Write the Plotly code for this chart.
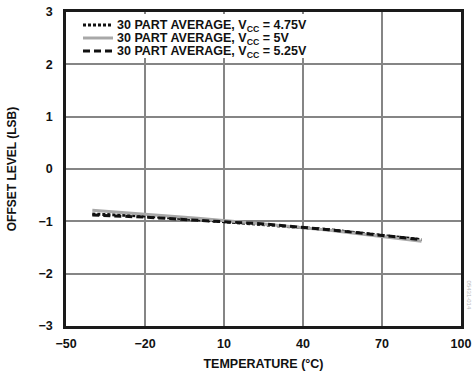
import plotly.graph_objects as go

temps = [-40, -20, 0, 25, 50, 85]
off_475 = [-0.86, -0.90, -0.97, -1.06, -1.16, -1.35]
off_500 = [-0.79, -0.86, -0.94, -1.05, -1.17, -1.38]
off_525 = [-0.88, -0.92, -0.98, -1.05, -1.16, -1.35]

series_names = ["30 PART AVERAGE, V<sub>CC</sub> = 4.75V",
                "30 PART AVERAGE, V<sub>CC</sub> = 5V",
                "30 PART AVERAGE, V<sub>CC</sub> = 5.25V"]

x_ticks = [-50, -20, 10, 40, 70, 100]
y_ticks = [-3, -2, -1, 0, 1, 2, 3]
y_labels = ["\u22123", "\u22122", "\u22121", "0", "1", "2", "3"]
x_labels = ["\u221250", "\u221220", "10", "40", "70", "100"]

font = "Liberation Sans, Arial, sans-serif"
styles = [dict(color="#111111", width=3, dash="3px,2px"),
          dict(color="#a8a8a8", width=3, dash="solid"),
          dict(color="#111111", width=3, dash="7px,4px")]

fig = go.Figure()
for name, vals, st in zip(series_names, [off_475, off_500, off_525], styles):
    fig.add_trace(go.Scatter(x=temps, y=vals, mode="lines", name=name,
                             line=st, showlegend=False))

L, R, T, B = 66, 12, 12, 45
W, H = 473, 371
pw, ph = W - L - R, H - T - B

def px(x):
    return (x - L) / pw

def py(y):
    return (H - B - y) / ph

# legend (drawn manually for the tight row spacing of the reference)
fig.add_shape(type="rect", xref="paper", yref="paper",
              x0=px(80), x1=px(322), y0=py(58), y1=py(14),
              fillcolor="white", line=dict(width=0), layer="above")
rows = [25, 38, 51]
for name, st, ry in zip(series_names, styles, rows):
    fig.add_shape(type="line", xref="paper", yref="paper",
                  x0=px(83), x1=px(113), y0=py(ry), y1=py(ry),
                  line=st, layer="above")
    fig.add_annotation(text="<b>" + name + "</b>", xref="paper", yref="paper",
                       x=px(115), y=py(ry), xanchor="left", yanchor="middle",
                       yshift=-1, showarrow=False,
                       font=dict(family=font, size=12.5, color="#111111"))

fig.update_layout(
    width=W, height=H,
    margin=dict(l=L, r=R, t=T, b=B, autoexpand=False),
    paper_bgcolor="white", plot_bgcolor="white",
    font=dict(family=font, size=12, color="#111111"),
    showlegend=False,
    xaxis=dict(range=[-50, 100], tickvals=x_ticks, ticktext=x_labels,
               automargin=False,
               showgrid=True, gridcolor="#858585", gridwidth=1.5,
               showline=True, linecolor="#1a1a1a", linewidth=2.5, mirror=True,
               ticks="outside", ticklen=4, tickcolor="rgba(0,0,0,0)", zeroline=False,
               tickfont=dict(family=font, size=12.5, color="#111111", weight="bold"),
               title=dict(text="TEMPERATURE (°C)", standoff=14,
                          font=dict(family=font, size=12.5, color="#111111", weight="bold"))),
    yaxis=dict(range=[-3, 3], tickvals=y_ticks, ticktext=y_labels,
               automargin=False,
               showgrid=True, gridcolor="#858585", gridwidth=1.5,
               showline=True, linecolor="#1a1a1a", linewidth=2.5, mirror=True,
               ticks="outside", ticklen=8, tickcolor="rgba(0,0,0,0)", zeroline=False,
               tickfont=dict(family=font, size=12.5, color="#111111", weight="bold"),
               title=dict(text="OFFSET LEVEL (LSB)", standoff=20,
                          font=dict(family=font, size=12, color="#111111", weight="bold"))),
)

fig.add_annotation(text="05431-014", x=1.0, y=0.1, xref="paper", yref="paper",
                   xanchor="left", yanchor="middle", xshift=3, textangle=90,
                   showarrow=False, font=dict(family=font, size=6, color="#bbbbbb"))

fig.write_html("out.html", config={"displayModeBar": False},
               post_script="document.body.style.margin='0';document.body.style.overflow='hidden';")
